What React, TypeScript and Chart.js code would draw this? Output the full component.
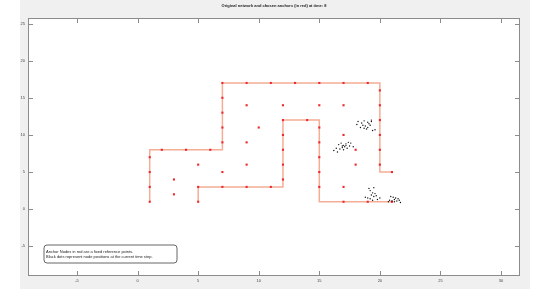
import React, { useEffect, useRef } from "react";
import { Chart, registerables } from "chart.js";

Chart.register(...registerables);

const titleText = "Original network and chosen anchors (in red) at time: 8";
const legendLines = [
  "Anchor Nodes in red are a fixed reference points.",
  "Black dots represent node positions at the current time step.",
];

const xTicks = [-5, 0, 5, 10, 15, 20, 25, 30];
const yTicks = [-5, 0, 5, 10, 15, 20, 25];

const pathAX = [1, 1, 7, 7, 20, 20, 21];
const pathAY = [1, 8, 8, 17, 17, 5, 5];
const pathBX = [5, 5, 12, 12, 15, 15, 21];
const pathBY = [1, 3, 3, 12, 12, 1, 1];

const anchorX = [1, 1, 1, 1, 2, 4, 6, 7, 7, 7, 7, 7, 9, 11, 13, 15, 17, 19, 20, 20, 20, 20, 20, 20, 21,
  3, 3, 5, 9, 9, 9, 10, 12, 15, 17, 17, 18, 18, 7, 7, 5, 5, 9, 11, 12, 12, 12, 12, 12, 14, 15, 15, 15, 15, 15, 17, 17, 19, 21];
const anchorY = [1, 3, 5, 7, 8, 8, 8, 9, 11, 13, 15, 17, 17, 17, 17, 17, 17, 17, 16, 14, 12, 10, 8, 6, 5,
  4, 2, 6, 14, 9, 6, 11, 14, 14, 14, 10, 8, 6, 5, 3, 3, 1, 3, 3, 4, 6, 8, 10, 12, 12, 11, 9, 7, 5, 3, 3, 1, 1, 1];

const nodeX = [
  16.6, 16.8, 17.0, 17.2, 17.4, 16.9, 17.1, 17.3, 16.7, 17.5, 16.4, 16.2, 16.5, 17.6, 17.0, 16.9, 17.2, 17.8,
  18.2, 18.5, 18.7, 19.0, 19.3, 18.6, 18.8, 19.0, 19.2, 18.4, 18.9, 19.4, 19.6, 18.1, 18.7, 19.1, 19.3,
  19.1, 19.5, 19.2, 19.4, 19.6, 19.3, 19.5, 19.7, 19.0, 19.2, 19.8, 19.4, 18.8, 20.0,
  20.9, 21.1, 21.3, 21.2, 21.5, 21.0, 20.8, 21.4, 21.6, 21.7, 21.2, 20.7,
];
const nodeY = [
  8.7, 8.9, 8.6, 8.8, 9.0, 8.3, 8.4, 8.2, 8.1, 8.5, 8.2, 7.9, 7.7, 8.9, 8.0, 8.5, 8.6, 8.4,
  11.8, 11.6, 11.9, 11.7, 11.8, 11.3, 11.2, 11.0, 11.3, 11.0, 10.8, 10.6, 10.7, 11.4, 10.9, 11.5, 12.0,
  2.8, 2.9, 2.5, 2.2, 2.1, 1.9, 1.7, 1.8, 1.5, 1.4, 1.3, 1.2, 1.6, 1.5,
  1.7, 1.6, 1.5, 1.3, 1.4, 1.1, 1.2, 1.1, 1.2, 0.9, 1.0, 1.0,
];

const toPts = (xs: number[], ys: number[]) => xs.map((x, i) => ({ x, y: ys[i] }));

export default function App() {
  const ref = useRef<HTMLCanvasElement | null>(null);
  useEffect(() => {
    document.body.style.margin = "0";
    const canvas = ref.current!;
    const framePlugin = {
      id: "frame",
      beforeDraw(chart: any) {
        const { ctx, chartArea: a } = chart;
        ctx.save();
        ctx.fillStyle = "#ffffff";
        ctx.fillRect(0, 0, chart.width, chart.height);
        ctx.fillStyle = "#f0f0f0";
        ctx.fillRect(20, 0, 510, chart.height);
        ctx.fillStyle = "#ffffff";
        ctx.fillRect(a.left, a.top, a.right - a.left, a.bottom - a.top);
        ctx.fillStyle = "#222";
        ctx.font = "bold 4px 'Liberation Sans', Arial, sans-serif";
        ctx.textAlign = "center";
        ctx.textBaseline = "middle";
        ctx.fillText(titleText, (a.left + a.right) / 2, 6);
        ctx.restore();
      },
      afterDraw(chart: any) {
        const { ctx, chartArea: a, scales } = chart;
        ctx.save();
        ctx.strokeStyle = "#8c8c8c";
        ctx.lineWidth = 1;
        ctx.strokeRect(a.left + 0.5, a.top + 0.5, a.right - a.left - 1, a.bottom - a.top - 1);
        const tl = 5;
        ctx.beginPath();
        xTicks.forEach((v) => {
          const p = Math.round(scales.x.getPixelForValue(v)) + 0.5;
          ctx.moveTo(p, a.bottom);
          ctx.lineTo(p, a.bottom - tl);
          ctx.moveTo(p, a.top);
          ctx.lineTo(p, a.top + tl);
        });
        yTicks.forEach((v) => {
          const p = Math.round(scales.y.getPixelForValue(v)) + 0.5;
          ctx.moveTo(a.left, p);
          ctx.lineTo(a.left + tl, p);
          ctx.moveTo(a.right, p);
          ctx.lineTo(a.right - tl, p);
        });
        ctx.stroke();
        // legend box
        const bx = 44, by = 245, bw = 133, bh = 18, r = 3;
        ctx.beginPath();
        ctx.moveTo(bx + r, by);
        ctx.lineTo(bx + bw - r, by);
        ctx.quadraticCurveTo(bx + bw, by, bx + bw, by + r);
        ctx.lineTo(bx + bw, by + bh - r);
        ctx.quadraticCurveTo(bx + bw, by + bh, bx + bw - r, by + bh);
        ctx.lineTo(bx + r, by + bh);
        ctx.quadraticCurveTo(bx, by + bh, bx, by + bh - r);
        ctx.lineTo(bx, by + r);
        ctx.quadraticCurveTo(bx, by, bx + r, by);
        ctx.closePath();
        ctx.fillStyle = "#ffffff";
        ctx.fill();
        ctx.strokeStyle = "#666";
        ctx.stroke();
        ctx.fillStyle = "#222";
        ctx.font = "4px 'Liberation Sans', Arial, sans-serif";
        ctx.textAlign = "left";
        ctx.textBaseline = "middle";
        ctx.fillText(legendLines[0], bx + 2, by + 6.5);
        ctx.fillText(legendLines[1], bx + 2, by + 11.5);
        ctx.restore();
      },
    };
    const lineStyle = {
      type: "line" as const,
      borderColor: "#f5ad96",
      borderWidth: 1.5,
      pointRadius: 0,
      fill: false,
      tension: 0,
      order: 3,
    };
    const chart = new Chart(canvas, {
      type: "scatter",
      data: {
        datasets: [
          { ...lineStyle, label: "A", data: toPts(pathAX, pathAY), showLine: true },
          { ...lineStyle, label: "B", data: toPts(pathBX, pathBY), showLine: true },
          {
            label: "anchors",
            data: toPts(anchorX, anchorY),
            pointStyle: "rect",
            pointRadius: 1.5,
            backgroundColor: "#ee2a2f",
            borderColor: "#ee2a2f",
            borderWidth: 0,
            order: 2,
          },
          {
            label: "nodes",
            data: toPts(nodeX, nodeY),
            pointRadius: 0.7,
            backgroundColor: "#111",
            borderColor: "#111",
            borderWidth: 0,
            order: 1,
          },
        ] as any,
      },
      options: {
        animation: false,
        responsive: false,
        devicePixelRatio: 1,
        layout: { padding: { left: 0, top: 18, right: 30, bottom: 0 } },
        plugins: { legend: { display: false }, tooltip: { enabled: false }, title: { display: false } },
        scales: {
          x: {
            type: "linear",
            min: -9.05,
            max: 31.57,
            grid: { display: false, drawTicks: false },
            border: { display: false },
            ticks: { font: { size: 4, family: "'Liberation Sans', Arial" }, color: "#444", padding: 2, maxRotation: 0 },
            afterBuildTicks: (s: any) => { s.ticks = xTicks.map((v) => ({ value: v })); },
            afterFit: (s: any) => { s.height = 13; },
          },
          y: {
            type: "linear",
            min: -9,
            max: 25.75,
            grid: { display: false, drawTicks: false },
            border: { display: false },
            ticks: { font: { size: 4, family: "'Liberation Sans', Arial" }, color: "#444", padding: 3 },
            afterBuildTicks: (s: any) => { s.ticks = yTicks.map((v) => ({ value: v })); },
            afterFit: (s: any) => { s.width = 28; },
          },
        },
      } as any,
      plugins: [framePlugin],
    });
    return () => chart.destroy();
  }, []);
  return <canvas ref={ref} width={550} height={289} style={{ display: "block", width: 550, height: 289 }} />;
}
